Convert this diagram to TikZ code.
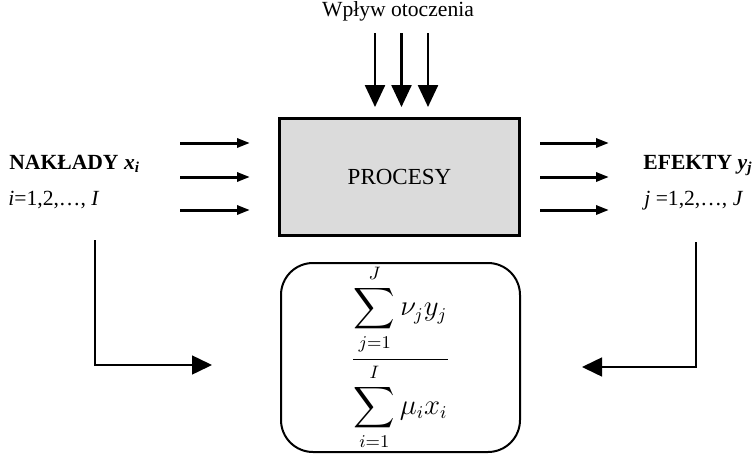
\documentclass[tikz,border=0pt]{standalone}
\usepackage{amsmath}
\usepackage{fontspec}
\setmainfont{Liberation Serif}
\usetikzlibrary{arrows.meta}
\begin{document}
\begin{tikzpicture}[x=0.5pt,y=-0.5pt,
  txt/.style={inner sep=0pt, font=\fontsize{10.8}{12}\selectfont},
  envarrow/.style={line width=1.25pt, -{Triangle[width=10pt,length=11pt]}},
  flowarrow/.style={line width=1.5pt, -{Triangle[width=4.5pt,length=6.5pt]}},
  feedarrow/.style={line width=0.75pt, -{Triangle[width=9.5pt,length=10pt]}}]
\useasboundingbox (0,0) rectangle (755,455);
% process box
\node[draw, line width=1.5pt, fill=gray!28, minimum width=120pt, minimum height=58.25pt,
      inner sep=0pt, font=\fontsize{11.5}{13}\selectfont] (proc) at (399.5,176.75) {PROCESY};
% environment
\node[txt, anchor=base] (env) at (398,17) {Wpływ otoczenia};
\foreach \xx/\nm in {375/a,401.5/b,428/c}{
  \coordinate (es\nm) at (\xx,33);
  \coordinate (ee\nm) at (\xx,107);
  \draw[envarrow] (es\nm) -- (ee\nm);
}
% inputs
\node[txt, anchor=base west] (inp) at (9,169.5) {\textbf{NAKŁADY \textit{x}\textsubscript{\textit{i}}}};
\node[txt, anchor=base west] (inpidx) at (8,205) {\textit{i}=1,2,…, \textit{I}};
% outputs
\node[txt, anchor=base west] (out) at (643,169.5) {\textbf{EFEKTY \textit{y}\textsubscript{\textit{j}}}};
\node[txt, anchor=base west] (outidx) at (644,205) {\textit{j} =1,2,…, \textit{J}};
\foreach \yy/\nm in {143/a,177/b,210/c}{
  \coordinate (ls\nm) at (180,\yy);
  \coordinate (le\nm) at (250,\yy);
  \draw[flowarrow] (ls\nm) -- (le\nm);
  \coordinate (rs\nm) at (540,\yy);
  \coordinate (re\nm) at (609,\yy);
  \draw[flowarrow] (rs\nm) -- (re\nm);
}
% efficiency ratio box
\node[draw, line width=1pt, rounded corners=16pt, minimum width=119.5pt, minimum height=94.5pt,
      inner sep=0pt, font=\fontsize{13.5}{16}\selectfont] (ratio) at (400.5,357.5)
  {$\dfrac{\displaystyle\sum_{j=1}^{J}\nu_j y_j}{\displaystyle\sum_{i=1}^{I}\mu_i x_i}$};
% feedback connectors
\coordinate (lt) at (95,240);
\coordinate (lc) at (95,365);
\coordinate (lh) at (212,365);
\draw[feedarrow] (lt) -- (lc) -- (lh);
\coordinate (rt) at (696,242);
\coordinate (rc) at (696,367);
\coordinate (rh) at (582,367);
\draw[feedarrow] (rt) -- (rc) -- (rh);
\end{tikzpicture}
\end{document}
